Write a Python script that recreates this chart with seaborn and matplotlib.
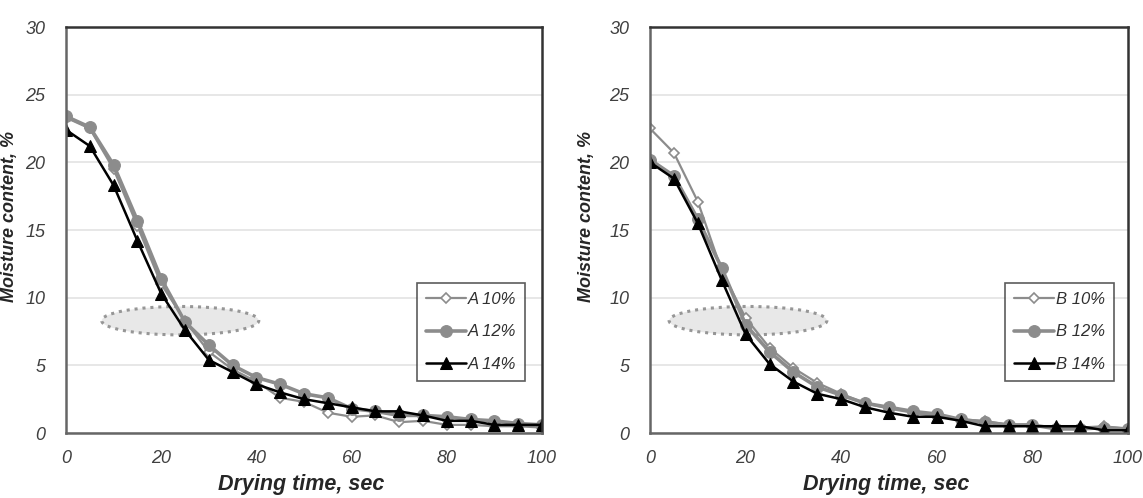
import numpy as np
import pandas as pd
import matplotlib
matplotlib.use('Agg')
import matplotlib.pyplot as plt
from matplotlib.patches import Ellipse
import seaborn as sns

# Data
time = [0, 5, 10, 15, 20, 25, 30, 35, 40, 45, 50, 55, 60, 65, 70, 75, 80, 85, 90, 95, 100]

a10 = [23.3, 22.5, 19.5, 15.3, 11.0, 8.3, 6.0, 4.7, 3.8, 2.6, 2.3, 1.5, 1.2, 1.3, 0.8, 0.9, 0.6, 0.6, 0.5, 0.5, 0.4]
a12 = [23.4, 22.6, 19.8, 15.7, 11.4, 8.2, 6.5, 5.0, 4.1, 3.6, 2.9, 2.6, 1.8, 1.6, 1.3, 1.3, 1.2, 1.0, 0.9, 0.7, 0.6]
a14 = [22.4, 21.2, 18.3, 14.2, 10.3, 7.6, 5.4, 4.5, 3.6, 3.0, 2.5, 2.2, 1.9, 1.6, 1.6, 1.3, 0.9, 0.9, 0.6, 0.6, 0.6]

b10 = [22.5, 20.7, 17.1, 12.0, 8.5, 6.3, 4.8, 3.7, 2.9, 2.2, 1.8, 1.5, 1.2, 1.0, 0.9, 0.6, 0.5, 0.4, 0.4, 0.5, 0.3]
b12 = [20.2, 19.0, 15.8, 12.2, 8.0, 6.0, 4.5, 3.4, 2.8, 2.2, 1.9, 1.6, 1.4, 1.0, 0.8, 0.6, 0.6, 0.3, 0.3, 0.4, 0.3]
b14 = [20.0, 18.8, 15.5, 11.3, 7.3, 5.1, 3.8, 2.9, 2.5, 1.9, 1.5, 1.2, 1.2, 0.9, 0.5, 0.5, 0.5, 0.5, 0.5, 0.2, 0.2]

panels = [
    {'labels': ['A 10%', 'A 12%', 'A 14%'], 'series': [a10, a12, a14], 'ell_x': 24.0},
    {'labels': ['B 10%', 'B 12%', 'B 14%'], 'series': [b10, b12, b14], 'ell_x': 20.5},
]

styles = [
    dict(color='#8c8c8c', marker='D', markersize=5.5, markerfacecolor='white', markeredgecolor='#8c8c8c', markeredgewidth=1.2, linewidth=1.6),
    dict(color='#8c8c8c', marker='o', markersize=8.5, markerfacecolor='#8c8c8c', markeredgecolor='#8c8c8c', linewidth=2.6),
    dict(color='black', marker='^', markersize=9, markerfacecolor='black', markeredgecolor='black', linewidth=1.8),
]

sns.set_style('white')
plt.rcParams['font.family'] = ['Liberation Sans', 'DejaVu Sans']

fig = plt.figure(figsize=(11.43, 4.98), dpi=100)
ax_pos = [(66, 27, 542, 433), (650, 27, 1128, 433)]
ylab_x = [18, 595]
leg_x = [417, 1005]
W, H = 1143, 498

for (x0, y0, x1, y1), yl, lx, p in zip(ax_pos, ylab_x, leg_x, panels):
    ax = fig.add_axes([x0 / W, 1 - y1 / H, (x1 - x0) / W, (y1 - y0) / H])
    for lab, vals, st in zip(p['labels'], p['series'], styles):
        df = pd.DataFrame({'t': time, 'm': vals})
        sns.lineplot(data=df, x='t', y='m', ax=ax, label=lab, **st)

    ell = Ellipse((p['ell_x'], 8.3), 33, 2.1, facecolor='#e6e6e6', edgecolor='#8c8c8c',
                  linestyle=(0, (1, 1.6)), linewidth=2.2, alpha=0.9, zorder=1)
    ax.add_patch(ell)

    ax.set_xlim(0, 100)
    ax.set_ylim(0, 30)
    ax.set_xticks(range(0, 101, 20))
    ax.set_yticks(range(0, 31, 5))
    ax.yaxis.grid(True, color='#e3e3e3', linewidth=1.2)
    ax.set_axisbelow(True)
    for s in ['left', 'bottom']:
        ax.spines[s].set_color('#666666')
        ax.spines[s].set_linewidth(1.8)
    for s in ['top', 'right']:
        ax.spines[s].set_color('#333333')
        ax.spines[s].set_linewidth(1.8)
    ax.tick_params(axis='both', which='major', length=3, width=1, color='#aaaaaa',
                   labelsize=13, labelcolor='#404040', direction='out')
    ax.tick_params(axis='y', pad=12)
    ax.tick_params(axis='x', pad=9)
    for t in ax.get_xticklabels() + ax.get_yticklabels():
        t.set_fontstyle('italic')
    ax.set_xlabel('Drying time, sec', fontsize=15.5, fontweight='bold', fontstyle='italic')
    ax.set_ylabel('Moisture content, %', fontsize=13, fontweight='bold', fontstyle='italic')
    ax.xaxis.set_label_coords(0.495, -0.102)
    ax.yaxis.set_label_coords((yl - x0) / (x1 - x0), 0.534)

    leg = ax.legend(loc='upper left', bbox_to_anchor=((lx - x0) / (x1 - x0), 0.37),
                    frameon=True, fancybox=False,
                    edgecolor='#333333', handlelength=2.4, handletextpad=0.1, borderpad=0.55,
                    labelspacing=1.05, borderaxespad=0, prop={'style': 'italic', 'size': 12})
    leg.get_frame().set_linewidth(1.2)
    for t in leg.get_texts():
        t.set_color('#303030')

fig.savefig('out.png', dpi=100)
